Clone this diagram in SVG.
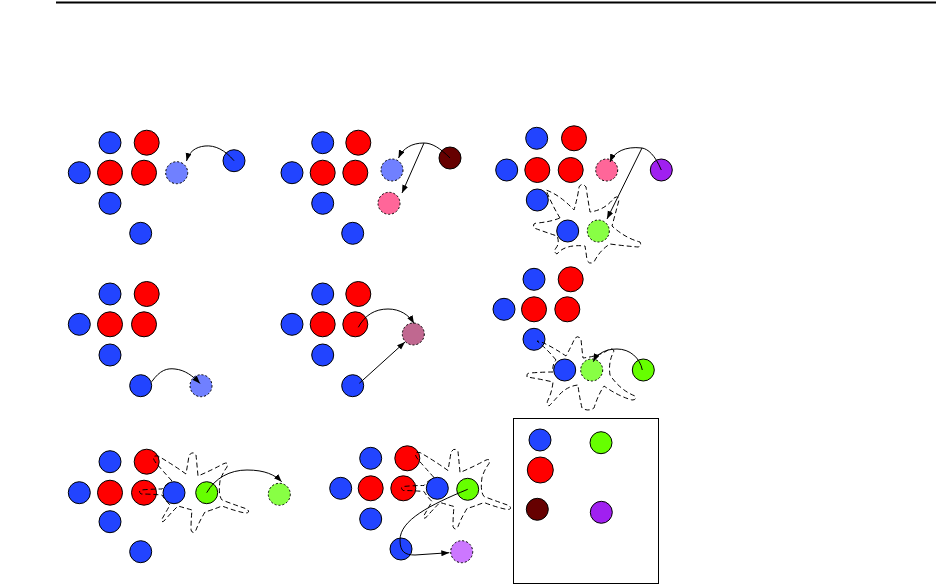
<svg xmlns="http://www.w3.org/2000/svg" xmlns:xlink="http://www.w3.org/1999/xlink" width="936" height="586" viewBox="0 0 936 586">
<style>
.c{stroke:#000;stroke-width:1}
.b{fill:#2244ff}
.r{fill:#ff0000}
.lb{fill:#7080ff;stroke-dasharray:2,2}
.pk{fill:#ff6699;stroke-dasharray:2,2}
.dr{fill:#660000}
.pu{fill:#a020f0}
.g{fill:#66ff00}
.lg{fill:#88ff44;stroke-dasharray:2,2}
.mv{fill:#c06890;stroke-dasharray:2,2}
.lp{fill:#cc77ff;stroke-dasharray:2,2}
.blob{fill:none;stroke:#000;stroke-width:1;stroke-dasharray:5,3}
.e{fill:none;stroke:#000;stroke-width:1}
</style>
<defs>
<marker id="ah" markerWidth="9" markerHeight="7" refX="8" refY="3" orient="auto" markerUnits="userSpaceOnUse">
<path d="M0,0 L8,3 L0,6 z" fill="#000"/>
</marker>
<path id="blobA" d="M 172 481 Q 162 470 156 463 Q 150 455 158 456 Q 172 464 186 474 Q 188 462 189 456 Q 192 450 196 455 Q 197 465 198 476 Q 212 470 223 464 Q 229 461 227 467 Q 222 474 220 481 Q 218 495 222 500 Q 235 505 247 509 Q 251 513 245 513 Q 235 511 222 506 Q 212 510 205 512 Q 199 522 196 530 Q 193 535 191 530 Q 191 520 192 510 Q 185 508 178 506 Q 170 514 165 520 Q 161 524 162 519 Q 166 512 170 505 Q 165 500 162 495 Q 150 494 141 494 Q 138 491 141 490 Q 152 489 162 489 Q 165 485 172 481 Z"/>
</defs>
<line x1="56" y1="2.5" x2="936" y2="2.5" stroke="#000" stroke-width="2"/>

<g id="panel1">
<g id="p1-b1"><circle class="c b" cx="110" cy="142.7" r="11"/></g>
<g id="p1-r1"><circle class="c r" cx="146.7" cy="142.7" r="12.5"/></g>
<g id="p1-b2"><circle class="c b" cx="79.3" cy="172.7" r="11"/></g>
<g id="p1-r2"><circle class="c r" cx="110" cy="172.7" r="12.5"/></g>
<g id="p1-r3"><circle class="c r" cx="144" cy="172.7" r="12.5"/></g>
<g id="p1-ghost"><circle class="c lb" cx="176.7" cy="172.7" r="11"/></g>
<g id="p1-b3"><circle class="c b" cx="234" cy="160.7" r="11"/></g>
<g id="p1-b4"><circle class="c b" cx="110" cy="203.3" r="11"/></g>
<g id="p1-b5"><circle class="c b" cx="140.7" cy="233.3" r="11"/></g>
</g>

<g id="panel2">
<g id="p2-b1"><circle class="c b" cx="322.7" cy="142.7" r="11"/></g>
<g id="p2-r1"><circle class="c r" cx="358.3" cy="142.7" r="12.5"/></g>
<g id="p2-b2"><circle class="c b" cx="292" cy="172.7" r="11"/></g>
<g id="p2-r2"><circle class="c r" cx="322.7" cy="172.7" r="12.5"/></g>
<g id="p2-r3"><circle class="c r" cx="355.3" cy="172.7" r="12.5"/></g>
<g id="p2-ghost1"><circle class="c lb" cx="392" cy="170" r="11"/></g>
<g id="p2-ghost2"><circle class="c pk" cx="389" cy="203.3" r="11"/></g>
<g id="p2-dr"><circle class="c dr" cx="450" cy="158" r="11"/></g>
<g id="p2-b3"><circle class="c b" cx="322.7" cy="203.3" r="11"/></g>
<g id="p2-b4"><circle class="c b" cx="352.7" cy="233.3" r="11"/></g>
</g>

<g id="panel3">
<g id="p3-b1"><circle class="c b" cx="536.7" cy="138.3" r="11"/></g>
<g id="p3-r1"><circle class="c r" cx="574" cy="138.3" r="12.5"/></g>
<g id="p3-b2"><circle class="c b" cx="506.7" cy="170" r="11"/></g>
<g id="p3-r2"><circle class="c r" cx="537.3" cy="170" r="12.5"/></g>
<g id="p3-r3"><circle class="c r" cx="570.7" cy="170" r="12.5"/></g>
<g id="p3-ghost1"><circle class="c pk" cx="606.7" cy="170" r="11"/></g>
<g id="p3-pu"><circle class="c pu" cx="661.3" cy="170" r="11"/></g>
<g id="p3-b3"><circle class="c b" cx="537.3" cy="200" r="11"/></g>
<g id="p3-b4"><circle class="c b" cx="567.7" cy="231" r="11"/></g>
<g id="p3-ghost2"><circle class="c lg" cx="598.3" cy="231" r="11"/></g>
</g>

<g id="panel4">
<g id="p4-b1"><circle class="c b" cx="110" cy="294" r="11"/></g>
<g id="p4-r1"><circle class="c r" cx="146.7" cy="294" r="12.5"/></g>
<g id="p4-b2"><circle class="c b" cx="79.3" cy="324.3" r="11"/></g>
<g id="p4-r2"><circle class="c r" cx="110" cy="324.3" r="12.5"/></g>
<g id="p4-r3"><circle class="c r" cx="144" cy="324.3" r="12.5"/></g>
<g id="p4-b3"><circle class="c b" cx="110" cy="355" r="11"/></g>
<g id="p4-b4"><circle class="c b" cx="140.7" cy="385.7" r="11"/></g>
<g id="p4-ghost"><circle class="c lb" cx="201" cy="385.7" r="11"/></g>
</g>

<g id="panel5">
<g id="p5-b1"><circle class="c b" cx="322.7" cy="294" r="11"/></g>
<g id="p5-r1"><circle class="c r" cx="358.3" cy="294" r="12.5"/></g>
<g id="p5-b2"><circle class="c b" cx="292" cy="324.3" r="11"/></g>
<g id="p5-r2"><circle class="c r" cx="322.7" cy="324.3" r="12.5"/></g>
<g id="p5-r3"><circle class="c r" cx="355.3" cy="324.3" r="12.5"/></g>
<g id="p5-b3"><circle class="c b" cx="322.7" cy="355" r="11"/></g>
<g id="p5-b4"><circle class="c b" cx="352.7" cy="385.7" r="11"/></g>
<g id="p5-ghost"><circle class="c mv" cx="413.3" cy="334" r="11"/></g>
</g>

<g id="panel6">
<g id="p6-b1"><circle class="c b" cx="534" cy="279.3" r="11"/></g>
<g id="p6-r1"><circle class="c r" cx="570.7" cy="279.3" r="12.5"/></g>
<g id="p6-b2"><circle class="c b" cx="504" cy="309.3" r="11"/></g>
<g id="p6-r2"><circle class="c r" cx="534" cy="309.3" r="12.5"/></g>
<g id="p6-r3"><circle class="c r" cx="567.3" cy="309.3" r="12.5"/></g>
<g id="p6-b3"><circle class="c b" cx="534" cy="339.3" r="11"/></g>
<g id="p6-b4"><circle class="c b" cx="564.7" cy="370" r="11"/></g>
<g id="p6-ghost"><circle class="c lg" cx="591.7" cy="370" r="11"/></g>
<g id="p6-g"><circle class="c g" cx="643.3" cy="370" r="11"/></g>
</g>

<g id="panel7">
<g id="p7-b1"><circle class="c b" cx="110" cy="461.7" r="11"/></g>
<g id="p7-r1"><circle class="c r" cx="146.7" cy="461.7" r="12.5"/></g>
<g id="p7-b2"><circle class="c b" cx="79.3" cy="492.7" r="11"/></g>
<g id="p7-r2"><circle class="c r" cx="110" cy="492.7" r="12.5"/></g>
<g id="p7-r3"><circle class="c r" cx="144" cy="492.7" r="12.5"/></g>
<g id="p7-b3"><circle class="c b" cx="174" cy="492.7" r="11"/></g>
<g id="p7-g"><circle class="c g" cx="206.7" cy="492.7" r="11"/></g>
<g id="p7-ghost"><circle class="c lg" cx="279.3" cy="494.3" r="11"/></g>
<g id="p7-b4"><circle class="c b" cx="110" cy="521.7" r="11"/></g>
<g id="p7-b5"><circle class="c b" cx="140.7" cy="551.7" r="11"/></g>
</g>

<g id="panel8">
<g id="p8-b1"><circle class="c b" cx="370.7" cy="458.3" r="11"/></g>
<g id="p8-r1"><circle class="c r" cx="407.3" cy="458.3" r="12.5"/></g>
<g id="p8-b2"><circle class="c b" cx="340.7" cy="488.3" r="11"/></g>
<g id="p8-r2"><circle class="c r" cx="370.7" cy="488.3" r="12.5"/></g>
<g id="p8-r3"><circle class="c r" cx="403.3" cy="488.3" r="12.5"/></g>
<g id="p8-b3"><circle class="c b" cx="437.3" cy="488.3" r="11"/></g>
<g id="p8-g"><circle class="c g" cx="467.7" cy="489.3" r="11"/></g>
<g id="p8-b4"><circle class="c b" cx="370.7" cy="519" r="11"/></g>
<g id="p8-b5"><circle class="c b" cx="401" cy="549" r="11"/></g>
<g id="p8-ghost"><circle class="c lp" cx="461.7" cy="551.7" r="11"/></g>
</g>

<g id="legend">
<rect x="513.5" y="418.5" width="145" height="165" fill="none" stroke="#000" stroke-width="1"/>
<g id="lg-b"><circle class="c b" cx="540" cy="440" r="11"/></g>
<g id="lg-g"><circle class="c g" cx="601" cy="442.7" r="11"/></g>
<g id="lg-r"><circle class="c r" cx="540.3" cy="470" r="13"/></g>
<g id="lg-dr"><circle class="c dr" cx="537.3" cy="509.3" r="11"/></g>
<g id="lg-pu"><circle class="c pu" cx="601.3" cy="512.3" r="11"/></g>
</g>

<g id="blobs">
<path class="blob" d="M 560 218 Q 552 205 546 190 Q 560 195 574 210 Q 578 196 579 187 Q 582 182 586 187 Q 588 200 590 212 Q 605 210 614 198 Q 619 195 619 200 Q 615 215 612 226 Q 625 238 640 242 Q 642 246 638 247 Q 625 246 610 244 Q 600 250 594 262 Q 589 265 587 260 Q 586 252 585 246 Q 565 244 557 254 Q 553 252 556 248 Q 560 243 557 236 Q 545 232 534 228 Q 532 223 537 223 Q 550 222 560 218 Z"/>
<path class="blob" d="M 556 360 Q 548 350 537 341 Q 545 342 566 356 Q 572 345 574 340 Q 577 334 581 339 Q 582 350 583 358 Q 600 356 608 350 Q 612 347 614 351 Q 608 362 610 375 Q 620 390 635 396 Q 637 400 632 400 Q 618 396 604 386 Q 598 395 594 408 Q 588 412 582 408 Q 579 395 578 385 Q 568 386 560 394 Q 553 402 549 406 Q 546 404 548 400 Q 552 392 553 382 Q 540 379 527 377 Q 526 373 530 373 Q 543 372 553 372 Q 552 365 556 360 Z"/>
<use xlink:href="#blobA" href="#blobA" class="blob"/>
<use xlink:href="#blobA" href="#blobA" class="blob" transform="translate(262,-3.5)"/>
</g>

<g id="connectors">
<path class="e" d="M 234 160.7 C 225 150 215 145 205 146 C 195 147 189 152 186.5 161" marker-end="url(#ah)"/>
<path class="e" d="M 450 158 C 440 148 432 143 424 143 C 412 143 403 148 398.5 158" marker-end="url(#ah)"/>
<path class="e" d="M 424 143 L 402 193" marker-end="url(#ah)"/>
<path class="e" d="M 661.3 170 C 655 155 648 149 642 148 C 625 146 614 152 610 162" marker-end="url(#ah)"/>
<path class="e" d="M 642 148 L 607 219" marker-end="url(#ah)"/>
<path class="e" d="M 151.7 381.7 C 160 370 167 368 175 369 C 185 370 193 376 200 383.5" marker-end="url(#ah)"/>
<path class="e" d="M 358.3 327.3 C 365 315 375 309 388 309 C 400 309 409 315 414 323.5" marker-end="url(#ah)"/>
<path class="e" d="M 359.3 383.3 L 405 342" marker-end="url(#ah)"/>
<path class="e" d="M 642.3 370 C 640 358 630 349 617 349 C 605 349 597 354 593.3 361.7" marker-end="url(#ah)"/>
<path class="e" d="M 206.7 492.7 C 215 478 230 470 247 470 C 265 470 275 475 281.7 481.7" marker-end="url(#ah)"/>
<path class="e" d="M 467.7 489.3 C 430 505 400 520 400 540 C 400 552 405 555 415 555 L 449.3 552.7" marker-end="url(#ah)"/>
</g>
</svg>
